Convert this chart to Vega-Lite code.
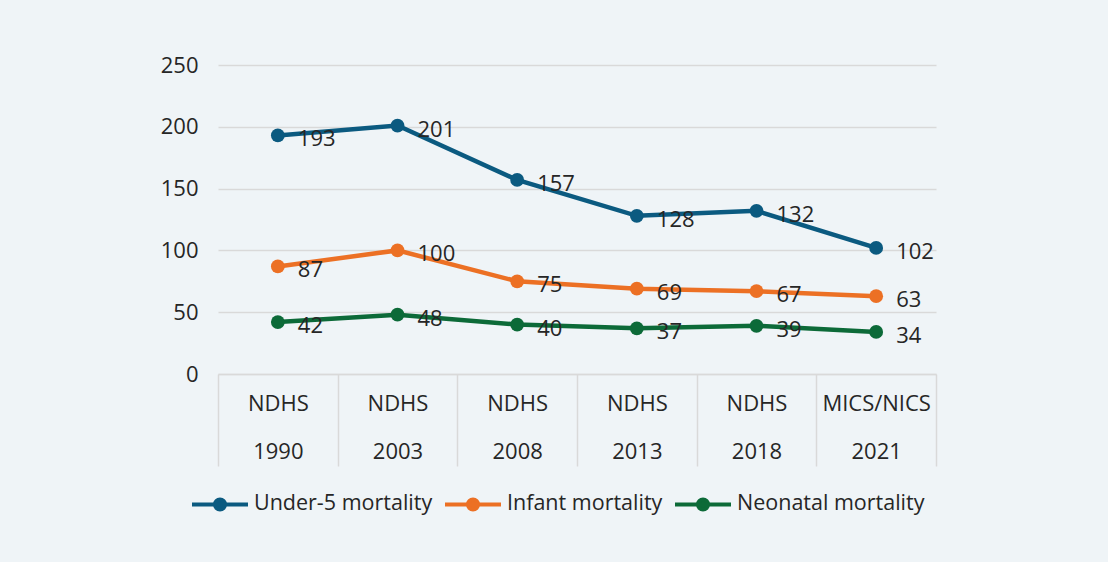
{
  "$schema": "https://vega.github.io/schema/vega-lite/v6.json",
  "width": 718,
  "height": 309,
  "autosize": {"type": "none"},
  "padding": {"left": 218, "top": 65, "right": 172, "bottom": 188},
  "background": "#eff4f7",
  "config": {"view": {"stroke": null}, "font": "Open Sans"},
  "data": {
    "values": [
      {"survey": "NDHS 1990", "series": "Under-5 mortality", "value": 193},
      {"survey": "NDHS 2003", "series": "Under-5 mortality", "value": 201},
      {"survey": "NDHS 2008", "series": "Under-5 mortality", "value": 157},
      {"survey": "NDHS 2013", "series": "Under-5 mortality", "value": 128},
      {"survey": "NDHS 2018", "series": "Under-5 mortality", "value": 132},
      {"survey": "MICS/NICS 2021", "series": "Under-5 mortality", "value": 102},
      {"survey": "NDHS 1990", "series": "Infant mortality", "value": 87},
      {"survey": "NDHS 2003", "series": "Infant mortality", "value": 100},
      {"survey": "NDHS 2008", "series": "Infant mortality", "value": 75},
      {"survey": "NDHS 2013", "series": "Infant mortality", "value": 69},
      {"survey": "NDHS 2018", "series": "Infant mortality", "value": 67},
      {"survey": "MICS/NICS 2021", "series": "Infant mortality", "value": 63},
      {"survey": "NDHS 1990", "series": "Neonatal mortality", "value": 42},
      {"survey": "NDHS 2003", "series": "Neonatal mortality", "value": 48},
      {"survey": "NDHS 2008", "series": "Neonatal mortality", "value": 40},
      {"survey": "NDHS 2013", "series": "Neonatal mortality", "value": 37},
      {"survey": "NDHS 2018", "series": "Neonatal mortality", "value": 39},
      {"survey": "MICS/NICS 2021", "series": "Neonatal mortality", "value": 34}
    ]
  },
  "encoding": {
    "x": {
      "field": "survey",
      "type": "nominal",
      "sort": ["NDHS 1990", "NDHS 2003", "NDHS 2008", "NDHS 2013", "NDHS 2018", "MICS/NICS 2021"],
      "scale": {"type": "band", "paddingInner": 0, "paddingOuter": 0},
      "axis": {
        "title": null,
        "labelAngle": 0,
        "labelExpr": "split(datum.label, ' ')",
        "labelFontSize": 22,
        "labelColor": "#262626",
        "labelLineHeight": 48,
        "labelBaseline": "top",
        "labelPadding": -73,
        "domain": true,
        "domainColor": "#d9d9d9",
        "domainWidth": 1.5,
        "ticks": true,
        "tickBand": "extent",
        "tickSize": 92,
        "tickColor": "#d9d9d9",
        "tickWidth": 1.5,
        "grid": false
      }
    },
    "y": {
      "field": "value",
      "type": "quantitative",
      "scale": {"domain": [0, 250]},
      "axis": {
        "title": null,
        "values": [0, 50, 100, 150, 200, 250],
        "domain": false,
        "ticks": false,
        "grid": true,
        "gridColor": "#d9d9d9",
        "gridWidth": 1.5,
        "labelPadding": 20,
        "labelFontSize": 22,
        "labelColor": "#262626"
      }
    },
    "color": {
      "field": "series",
      "type": "nominal",
      "scale": {
        "domain": ["Under-5 mortality", "Infant mortality", "Neonatal mortality"],
        "range": ["#0b5a80", "#ec7024", "#0c6a38"]
      },
      "legend": {
        "orient": "none",
        "legendX": -28,
        "legendY": 409,
        "direction": "horizontal",
        "title": null,
        "symbolType": "M-1,0H1M-0.18,0A0.18,0.18,0,1,1,0.18,0A0.18,0.18,0,1,1,-0.18,0Z",
        "symbolSize": 3136,
        "symbolStrokeWidth": 4,
        "labelFontSize": 21.5,
        "labelColor": "#262626",
        "labelOffset": 4,
        "columnPadding": 4,
        "labelLimit": 400,
        "encode": {
          "symbols": {
            "update": {
              "fill": {"scale": "color", "field": "value"},
              "stroke": {"scale": "color", "field": "value"},
              "opacity": {"value": 1}
            }
          }
        }
      }
    }
  },
  "layer": [
    {"mark": {"type": "line", "strokeWidth": 4.5}},
    {"mark": {"type": "point", "filled": true, "size": 190, "opacity": 1}},
    {
      "mark": {"type": "text", "align": "left", "baseline": "middle", "dx": 20, "dy": 4, "fontSize": 22},
      "encoding": {"text": {"field": "value", "type": "quantitative"}, "color": {"value": "#262626"}}
    }
  ]
}
